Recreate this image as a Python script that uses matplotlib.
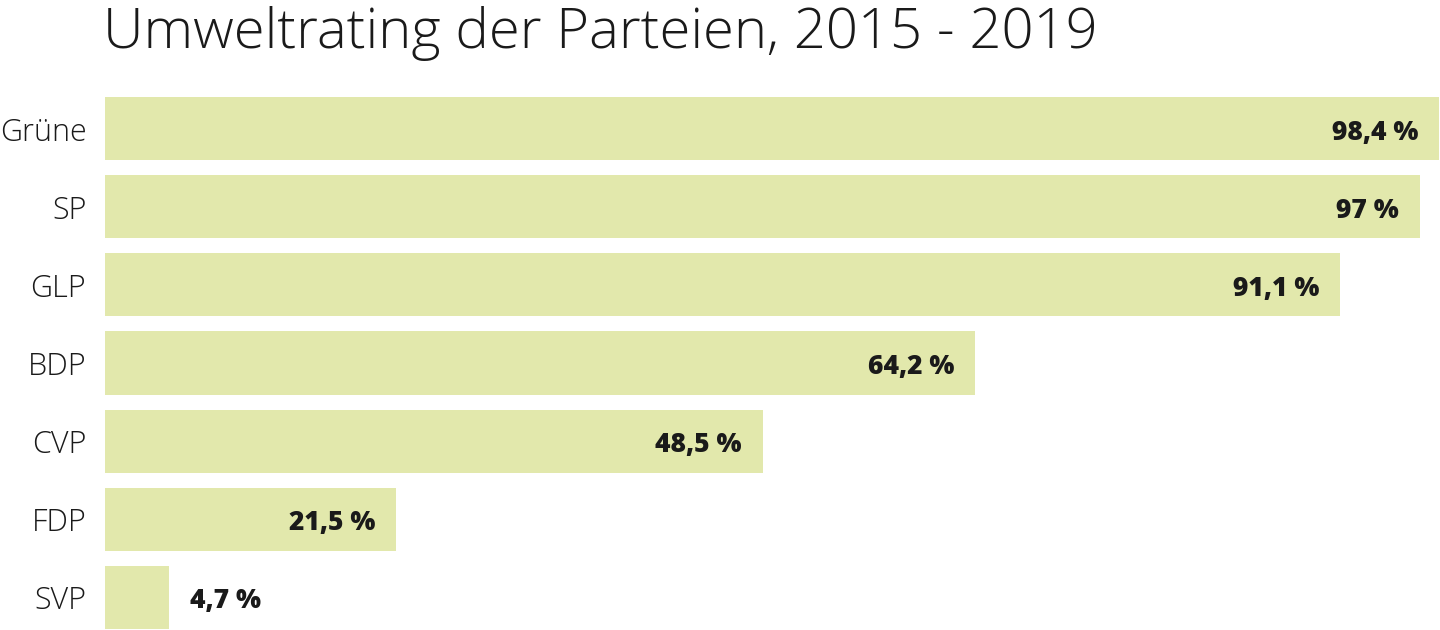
import matplotlib
matplotlib.use("Agg")
import matplotlib.pyplot as plt
from matplotlib import transforms

parties = ["Grüne", "SP", "GLP", "BDP", "CVP", "FDP", "SVP"]
values = [98.4, 97, 91.1, 64.2, 48.5, 21.5, 4.7]
value_labels = ["98,4 %", "97 %", "91,1 %", "64,2 %", "48,5 %", "21,5 %", "4,7 %"]
title = "Umweltrating der Parteien, 2015 - 2019"

W, H = 1440, 630
fig = plt.figure(figsize=(W / 100, H / 100), dpi=100)
fig.patch.set_facecolor("white")

# axes placement in pixels
left_px, right_px = 105, 1440
top_px, bottom_px = 89.5, 630
ax = fig.add_axes([left_px / W, 1 - bottom_px / H, (right_px - left_px) / W, (bottom_px - top_px) / H])

pitch = 78.0
ymax = 6 + (bottom_px - 597.5) / pitch
ax.set_ylim(ymax, -0.5)
ax.set_xlim(0, (right_px - left_px) / 13.557)

bar_color = "#E2E8AC"
text_color = "#1a1a1a"
ypos = list(range(len(parties)))
ax.barh(ypos, values, height=63 / 78, color=bar_color, edgecolor="none")

for spine in ax.spines.values():
    spine.set_visible(False)
ax.set_xticks([])
ax.set_yticks(ypos)
ax.set_yticklabels(parties, fontsize=22, color=text_color, fontfamily="Open Sans", fontweight="light")
ax.tick_params(axis="y", length=0, pad=13.5)

for y, v, lab in zip(ypos, values, value_labels):
    if v > 10:
        off = transforms.offset_copy(ax.transData, fig=fig, x=-21, y=-4, units="dots")
        ax.text(v, y, lab, ha="right", va="center", fontsize=19, fontweight="heavy",
                color=text_color, fontfamily="Open Sans", transform=off)
    else:
        off = transforms.offset_copy(ax.transData, fig=fig, x=21, y=-4, units="dots")
        ax.text(v, y, lab, ha="left", va="center", fontsize=19, fontweight="heavy",
                color=text_color, fontfamily="Open Sans", transform=off)

fig.text(103 / W, 1 - 48 / H, title, fontsize=40.5, color=text_color, fontfamily="Open Sans",
         fontweight="light", ha="left", va="baseline")

fig.savefig("out.png", dpi=100, facecolor="white")
